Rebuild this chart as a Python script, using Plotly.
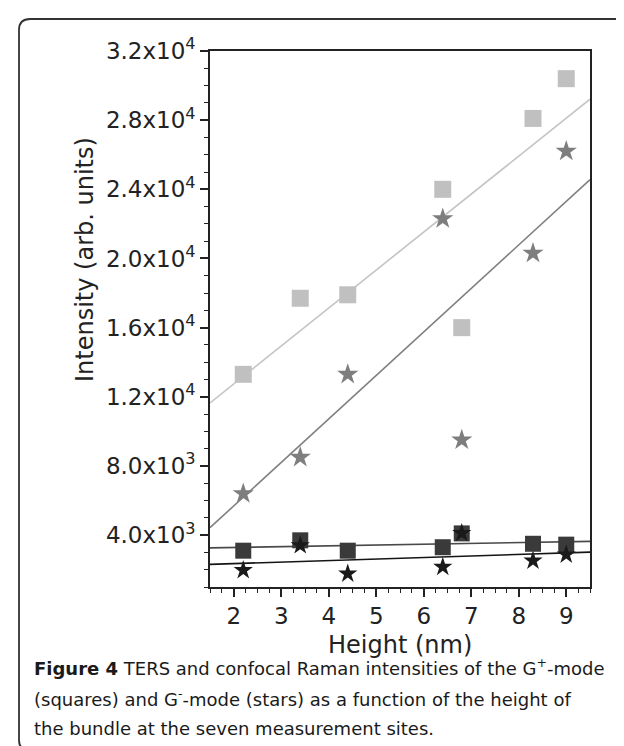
import numpy as np
import plotly.graph_objects as go

# ---- data ----
height_nm = [2.2, 3.4, 4.4, 6.4, 6.8, 8.3, 9.0]
ters_gplus = [13300, 17700, 17900, 24000, 16000, 28100, 30400]     # light grey squares
ters_gminus = [6400, 8500, 13300, 22300, 9500, 20300, 26200]        # grey stars
conf_gplus = [3100, 3700, 3100, 3300, 4100, 3500, 3450]             # dark squares
conf_gminus = [1970, 3410, 1770, 2160, 4120, 2520, 2870]            # black stars

y_tickvals = [4000, 8000, 12000, 16000, 20000, 24000, 28000, 32000]
y_ticktext = ["4.0x10<sup>3</sup>", "8.0x10<sup>3</sup>", "1.2x10<sup>4</sup>",
              "1.6x10<sup>4</sup>", "2.0x10<sup>4</sup>", "2.4x10<sup>4</sup>",
              "2.8x10<sup>4</sup>", "3.2x10<sup>4</sup>"]
x_tickvals = [2, 3, 4, 5, 6, 7, 8, 9]
x_range = [1.5, 9.5]
y_range = [1000, 32000]

caption_lines = [
    "<b>Figure 4</b> TERS and confocal Raman intensities of the G<sup>+</sup>-mode",
    "(squares) and G<sup>-</sup>-mode (stars) as a function of the height of",
    "the bundle at the seven measurement sites.",
]

# ---- layout geometry ----
W, H = 624, 746
L, R, T, B = 202, 582, 43, 579


def px(x):
    return (x - L) / (R - L)


def py(y):
    return (B - y) / (B - T)


fig = go.Figure()

series = [
    (ters_gplus, "square", 17, "#c0c0c0", "#c4c4c4"),
    (ters_gminus, "star", 16, "#7e7e7e", "#808080"),
    (conf_gplus, "square", 16, "#3a3a3a", "#4a4a4a"),
    (conf_gminus, "star", 14.5, "#1a1a1a", "#151515"),
]

xs = np.array(height_nm)
# fitted lines first
for vals, sym, size, mcol, lcol in series:
    k, b0 = np.polyfit(xs, np.array(vals, dtype=float), 1)
    fx = np.array(x_range)
    fig.add_trace(go.Scatter(x=fx, y=k * fx + b0, mode="lines",
                             line=dict(color=lcol, width=1.6),
                             hoverinfo="skip", showlegend=False))
for vals, sym, size, mcol, lcol in series:
    fig.add_trace(go.Scatter(x=height_nm, y=vals, mode="markers",
                             marker=dict(symbol=sym, size=size, color=mcol,
                                         line=dict(width=0)),
                             showlegend=False))

axis_col = "#222222"
FONT = "DejaVu Sans, Liberation Sans, Arial, sans-serif"
tick_font = dict(family=FONT, size=23, color="#222222")

fig.update_xaxes(range=x_range, tickmode="array", tickvals=x_tickvals,
                 ticks="outside", ticklen=8, tickwidth=1.5, tickcolor=axis_col,
                 showline=True, linecolor=axis_col, linewidth=1.6, mirror=True,
                 showgrid=False, zeroline=False, tickfont=tick_font,
                 minor=dict(tickmode="linear", tick0=0, dtick=0.25, ticks="outside",
                            ticklen=4, tickwidth=1.2, tickcolor=axis_col, showgrid=False))
fig.update_yaxes(range=y_range, tickmode="array", tickvals=y_tickvals, ticktext=y_ticktext,
                 ticks="outside", ticklen=8, tickwidth=1.5, tickcolor=axis_col,
                 showline=True, linecolor=axis_col, linewidth=1.6, mirror=True,
                 showgrid=False, zeroline=False, tickfont=tick_font,
                 minor=dict(tickmode="linear", tick0=0, dtick=1000, ticks="outside",
                            ticklen=4, tickwidth=1.2, tickcolor=axis_col, showgrid=False))

annots = [
    dict(text="Intensity (arb. units)", x=px(77), y=py(251), textangle=-90,
         xanchor="center", yanchor="middle",
         font=dict(family=FONT, size=24, color="#222")),
    dict(text="Height (nm)", x=px(392), y=py(637), xanchor="center", yanchor="middle",
         font=dict(family=FONT, size=24, color="#222")),
]
cap_y = [659, 690, 720]
for line, yy in zip(caption_lines, cap_y):
    annots.append(dict(text=line, x=px(24), y=py(yy), xanchor="left", yanchor="middle",
                       align="left",
                       font=dict(family="DejaVu Sans, sans-serif", size=18, color="#1a1a1a")))
for a in annots:
    a.update(xref="paper", yref="paper", showarrow=False)

# rounded frame around the whole figure (right edge beyond the visible page)
x0, y0, x1, y1, r = 11, 11, 660, 743, 11
path = (f"M {px(x0 + r)},{py(y0)} L {px(x1 - r)},{py(y0)} "
        f"Q {px(x1)},{py(y0)} {px(x1)},{py(y0 + r)} L {px(x1)},{py(y1 - r)} "
        f"Q {px(x1)},{py(y1)} {px(x1 - r)},{py(y1)} L {px(x0 + r)},{py(y1)} "
        f"Q {px(x0)},{py(y1)} {px(x0)},{py(y1 - r)} L {px(x0)},{py(y0 + r)} "
        f"Q {px(x0)},{py(y0)} {px(x0 + r)},{py(y0)} Z")

fig.update_layout(
    width=W, height=H,
    margin=dict(l=L, r=W - R, t=T, b=H - B),
    paper_bgcolor="white", plot_bgcolor="white",
    annotations=annots,
    shapes=[dict(type="path", path=path, xref="paper", yref="paper",
                 line=dict(color="#333333", width=1.8), layer="below")],
)

fig.write_html("out.html")
